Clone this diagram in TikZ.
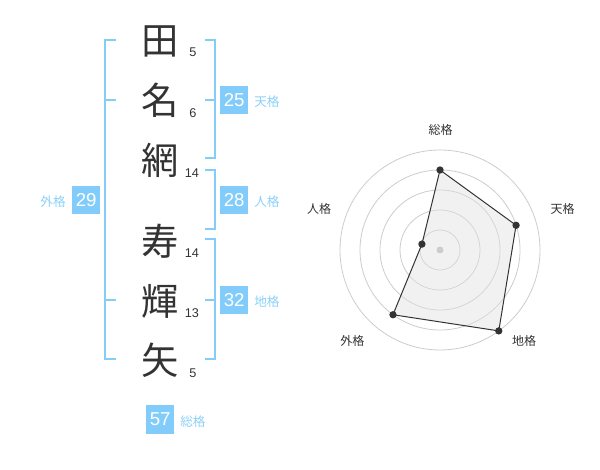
\documentclass[tikz,border=0pt]{standalone}
\usepackage{fontspec}
\setmainfont{Liberation Sans}
\newfontfamily\jp{Noto Sans CJK JP}
\definecolor{boxblue}{RGB}{129,204,250}
\definecolor{lineblue}{RGB}{132,205,249}
\definecolor{lblblue}{RGB}{140,208,248}
\definecolor{txt}{RGB}{51,51,51}
\definecolor{ring}{RGB}{204,204,204}
\definecolor{polyfill}{RGB}{225,225,225}
\begin{document}
\begin{tikzpicture}[x=0.75pt,y=-0.75pt,
  kanji/.style={font=\jp\fontsize{28pt}{28pt}\selectfont, text=txt, inner sep=0pt},
  strokes/.style={font=\fontsize{9.5pt}{10pt}\selectfont, text=txt, inner sep=0pt},
  numbox/.style={fill=boxblue, text=white, minimum width=28.5*0.75pt, minimum height=28.5*0.75pt, inner sep=0pt, font=\fontsize{14pt}{14pt}\selectfont},
  kaku/.style={font=\jp\fontsize{9.5pt}{10pt}\selectfont, text=lblblue, inner sep=0pt},
  bracket/.style={draw=lineblue, line width=1.5pt},
  axislbl/.style={font=\jp\fontsize{9pt}{10pt}\selectfont, text=txt, inner sep=0pt},
  dot/.style={circle, fill=txt, inner sep=0pt, minimum size=5.5pt}
]
\useasboundingbox (0,0) rectangle (600,470);
% kanji
\node[kanji] (k1) at (160,41) {田};
\node[kanji] (k2) at (160,100) {名};
\node[kanji] (k3) at (160,160) {網};
\node[kanji] (k4) at (160,241) {寿};
\node[kanji] (k5) at (160,301) {輝};
\node[kanji] (k6) at (160,360) {矢};
% stroke counts
\node[strokes] (s1) at (193,52) {5};
\node[strokes] (s2) at (193,113) {6};
\node[strokes] (s3) at (192,173) {14};
\node[strokes] (s4) at (192,253) {14};
\node[strokes] (s5) at (192,313) {13};
\node[strokes] (s6) at (193,373) {5};
% brackets
\draw[bracket] (115.5,40) -- (105,40) -- (105,359) -- (115.5,359);
\draw[bracket] (105,100) -- (115.5,100);
\draw[bracket] (105,300) -- (115.5,300);
\draw[bracket] (205,40) -- (214.5,40) -- (214.5,158.5) -- (205,158.5);
\draw[bracket] (205,100) -- (214.5,100);
\draw[bracket] (205,170) -- (214.5,170) -- (214.5,229.5) -- (205,229.5);
\draw[bracket] (205,239.5) -- (214.5,239.5) -- (214.5,359) -- (205,359);
\draw[bracket] (205,300) -- (214.5,300);
% boxes and labels
\node[numbox] (b25) at (234.2,100.2) {25};
\node[kaku, anchor=west] (l25) at (254,102) {天格};
\node[numbox] (b28) at (234.2,200.2) {28};
\node[kaku, anchor=west] (l28) at (254,202) {人格};
\node[numbox] (b32) at (234.2,300.2) {32};
\node[kaku, anchor=west] (l32) at (254,302) {地格};
\node[numbox] (b29) at (86.2,200.2) {29};
\node[kaku, anchor=east] (l29) at (66,202) {外格};
\node[numbox] (b57) at (160.2,419.5) {57};
\node[kaku, anchor=west] (l57) at (180,421.5) {総格};
% radar chart
\begin{scope}[shift={(440,250)}, x=0.75pt, y=0.75pt]
  \foreach \r in {20,40,60,80,100} \draw[ring, line width=0.6pt] (0,0) circle (\r);
  \coordinate (p1) at (90:80);
  \coordinate (p2) at (18:80);
  \coordinate (p3) at (-54:100);
  \coordinate (p4) at (-126:80);
  \coordinate (p5) at (162:19);
  \fill[polyfill, fill opacity=0.45] (p1) -- (p2) -- (p3) -- (p4) -- (p5) -- cycle;
  \draw[txt, line width=0.75pt] (p1) -- (p2) -- (p3) -- (p4) -- (p5) -- cycle;
  \fill[ring] (0,0) circle (3.5);
  \foreach \p in {p1,p2,p3,p4,p5} \node[dot] at (\p) {};
  \node[axislbl] (a1) at (0.7,120) {総格};
  \node[axislbl] (a2) at (122.7,41.3) {天格};
  \node[axislbl] (a3) at (84,-91) {地格};
  \node[axislbl] (a4) at (-87.7,-91) {外格};
  \node[axislbl] (a5) at (-121,41.3) {人格};
\end{scope}
\end{tikzpicture}
\end{document}
